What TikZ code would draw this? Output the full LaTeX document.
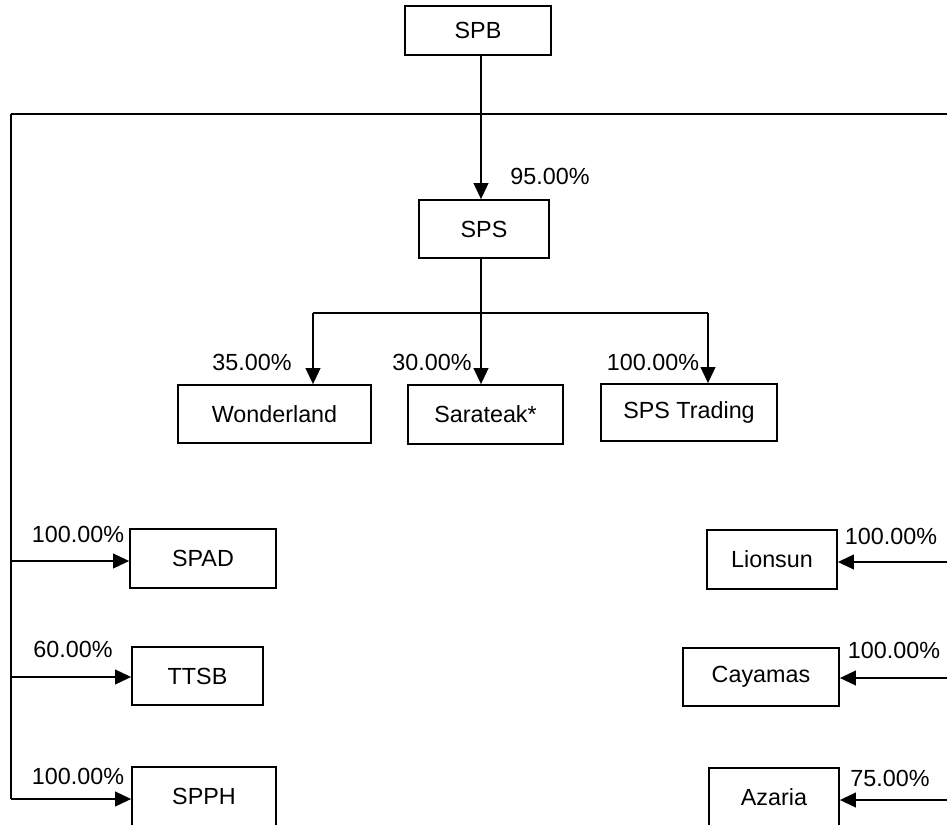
\documentclass[tikz,border=0pt]{standalone}
\usepackage{fontspec}
\setmainfont{Liberation Sans}
\usetikzlibrary{arrows.meta,calc}
\begin{document}
\begin{tikzpicture}[x=0.75pt,y=-0.75pt,
  box/.style={draw,line width=1.3pt,inner sep=0pt,font=\fontsize{17.5}{20}\selectfont},
  pct/.style={inner sep=0pt,font=\fontsize{17.5}{20}\selectfont},
  conn/.style={line width=1.4pt},
  arr/.style={conn,-{Triangle[length=12pt,width=11pt]}}]
\useasboundingbox (0,0) rectangle (947,825);
\clip (0,0) rectangle (947,825);
% boxes (sizes in px * 0.75pt)
\node[box,minimum width=146*0.75pt,minimum height=49*0.75pt] (SPB) at (478,30.5) {SPB};
\node[box,minimum width=130*0.75pt,minimum height=58*0.75pt] (SPS) at (484,229) {SPS};
\node[box,minimum width=193*0.75pt,minimum height=58*0.75pt] (WON) at (274.5,414) {Wonderland};
\node[box,minimum width=155*0.75pt,minimum height=59*0.75pt] (SAR) at (485.5,414.5) {Sarateak*};
\node[box,minimum width=176*0.75pt,minimum height=57*0.75pt] (SPST) at (689,412.5) {SPS Trading};
\node[box,minimum width=146*0.75pt,minimum height=59*0.75pt] (SPAD) at (203,558.5) {SPAD};
\node[box,minimum width=131*0.75pt,minimum height=58*0.75pt] (TTSB) at (197.5,676) {TTSB};
\node[box,minimum width=144*0.75pt,minimum height=59*0.75pt] (SPPH) at (204,796.5) {SPPH};
\node[box,minimum width=130*0.75pt,minimum height=59*0.75pt] (LION) at (772,559.5) {Lionsun};
\node[box,minimum width=156*0.75pt,minimum height=58*0.75pt] (CAY) at (761,677) {Cayamas};
\node[box,minimum width=130*0.75pt,minimum height=59*0.75pt] (AZA) at (774,797.5) {Azaria};
% coordinates
\coordinate (TL) at (11,114);
\coordinate (TR) at (947,114);
\coordinate (M) at (481,114);
\coordinate (SB) at (481,313);
\coordinate (SBL) at (313,313);
\coordinate (SBR) at (708,313);
\coordinate (RA) at (947,562);
\coordinate (RB) at (947,678);
\coordinate (RC) at (947,800);
% top connectors
\draw[conn] (TL) -- (TR);
\draw[arr] (SPB.south -| M) -- (SPS.north -| M);
\draw[conn] (SPS.south -| SB) -- (SB);
\draw[conn] (SBL) -- (SBR);
\draw[arr] (SBL) -- (WON.north -| SBL);
\draw[arr] (SB) -- (SAR.north -| SB);
\draw[arr] (SBR) -- (SPST.north -| SBR);
% left branch
\draw[conn] (TL) -- (11,799);
\draw[arr] (11,561) -- (SPAD.west |- 0,561);
\draw[arr] (11,677) -- (TTSB.west |- 0,677);
\draw[arr] (11,799) -- (SPPH.west |- 0,799);
% right branch
\draw[arr] (RA) -- (LION.east |- RA);
\draw[arr] (RB) -- (CAY.east |- RB);
\draw[arr] (RC) -- (AZA.east |- RC);
% labels
\node[pct] (l95) at (550,176) {95.00\%};
\node[pct] (l35) at (252,362) {35.00\%};
\node[pct] (l30) at (432,362) {30.00\%};
\node[pct] (l100t) at (653,362) {100.00\%};
\node[pct] (lspad) at (78,534) {100.00\%};
\node[pct] (lttsb) at (73,649) {60.00\%};
\node[pct] (lspph) at (78,776) {100.00\%};
\node[pct] (llion) at (891,536) {100.00\%};
\node[pct] (lcay) at (894,650) {100.00\%};
\node[pct] (laza) at (890,778) {75.00\%};
\end{tikzpicture}
\end{document}
